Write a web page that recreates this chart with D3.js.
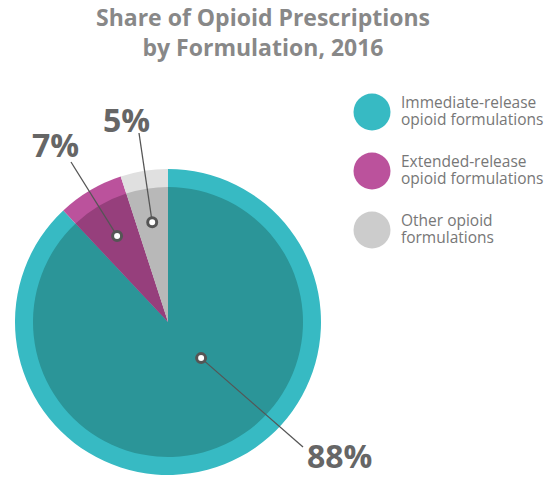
<!DOCTYPE html>
<html><head><meta charset="utf-8">
<script src="https://cdn.jsdelivr.net/npm/d3@7"></script>
<style>body{margin:0;background:#fff}</style>
</head><body>
<svg id="c" width="558" height="477"></svg>
<script>
const categories = ["Immediate-release opioid formulations","Extended-release opioid formulations","Other opioid formulations"];
const legendLines = [["Immediate-release","opioid formulations"],["Extended-release","opioid formulations"],["Other opioid","formulations"]];
const values = [88, 7, 5];
const valueLabels = ["88%", "7%", "5%"];
const outerColors = ["#37bac3", "#bb529c", "#e0e0e0"];
const innerColors = ["#2b9598", "#963f7c", "#b8b8b8"];
const legendColors = ["#37bac3", "#bb529c", "#cccccc"];
const titleLines = ["Share of Opioid Prescriptions", "by Formulation, 2016"];

const svg = d3.select("#c");
const cx = 168, cy = 322, R = 153, Ri = 135;
const g = svg.append("g").attr("transform", `translate(${cx},${cy})`);
const pie = d3.pie().sort(null).value(d => d);
const arcs = pie(values);
const outerArc = d3.arc().innerRadius(0).outerRadius(R);
const innerArc = d3.arc().innerRadius(0).outerRadius(Ri);
g.selectAll("path.o").data(arcs).join("path").attr("d", outerArc).attr("fill", (d,i)=>outerColors[i]);
g.selectAll("path.i").data(arcs).join("path").attr("d", innerArc).attr("fill", (d,i)=>innerColors[i]);

// annotation: marker in polar coords (angle fraction within slice, radius), label anchor
const markerFrac = [0.434, 0.5, 0.5];
const markerR = [49, 100, 101];
const lineEnd = [[135, 125], [-97, -160], [-29, -189]];
const labelPos = [[139, 146], [-136, -165], [-65, -190]];
arcs.forEach((a, i) => {
  const ang = a.startAngle + (a.endAngle - a.startAngle) * markerFrac[i];
  const mx = Math.sin(ang) * markerR[i], my = -Math.cos(ang) * markerR[i];
  g.append("line").attr("x1", mx).attr("y1", my).attr("x2", lineEnd[i][0]).attr("y2", lineEnd[i][1])
    .attr("stroke", "#555").attr("stroke-width", 1.3);
  g.append("circle").attr("cx", mx).attr("cy", my).attr("r", 4.5).attr("fill", "#fff")
    .attr("stroke", "#555").attr("stroke-width", 3);
  g.append("text").attr("x", labelPos[i][0]).attr("y", labelPos[i][1]).text(valueLabels[i])
    .attr("font-family", "Open Sans, sans-serif").attr("font-weight", 700).attr("font-size", 32)
    .attr("fill", "#666");
});

svg.selectAll("text.t").data(titleLines).join("text")
  .attr("x", 263).attr("y", (d,i)=>26 + i*30).attr("text-anchor", "middle")
  .attr("font-family", "Open Sans, sans-serif").attr("font-weight", 700).attr("font-size", 23)
  .attr("fill", "#888").text(d=>d);

const lg = svg.append("g");
categories.forEach((c, i) => {
  const y = 112 + i * 59;
  lg.append("circle").attr("cx", 372).attr("cy", y).attr("r", 18.5).attr("fill", legendColors[i]);
  const t = lg.append("text").attr("y", y - 4)
    .attr("font-family", "Open Sans, sans-serif").attr("font-size", 15.5).attr("fill", "#777");
  legendLines[i].forEach((l, j) => {
    t.append("tspan").attr("x", 401).attr("dy", j === 0 ? 0 : 17).text(l);
  });
});
</script>
</body></html>
